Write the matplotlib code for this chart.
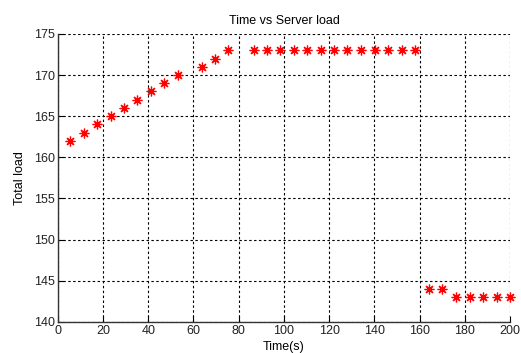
import numpy as np
import matplotlib
matplotlib.use('Agg')
import matplotlib.pyplot as plt

# ── Data ──────────────────────────────────────────────────────────────────────
time_s = [5.3, 11.6, 17.2, 23.3, 29.2, 35.1, 41.0, 47.1, 53.1,
          63.6, 69.3, 75.2,
          86.7, 92.4, 98.4, 104.4, 110.3, 116.2, 122.1, 128.1, 134.1,
          140.2, 146.2, 152.1, 158.0,
          164.3, 170.1, 176.1, 182.2, 188.2, 194.1, 200.0]
total_load = [162, 163, 164, 165, 166, 167, 168, 169, 170,
              171, 172, 173,
              173, 173, 173, 173, 173, 173, 173, 173, 173,
              173, 173, 173, 173,
              144, 144, 143, 143, 143, 143, 143]

x_ticks = [0, 20, 40, 60, 80, 100, 120, 140, 160, 180, 200]
y_ticks = [140, 145, 150, 155, 160, 165, 170, 175]

plt.rcParams['font.family'] = ['Liberation Sans', 'DejaVu Sans']

fig = plt.figure(figsize=(5.21, 3.53), dpi=100)
ax = fig.add_axes([0.111, 0.088, 0.868, 0.816])

# MATLAB-style '*' marker: plus and cross on top of each other
ax.plot(time_s, total_load, linestyle='none', marker=(8, 2, 0), color='red',
        markersize=7, markeredgewidth=0.9, clip_on=False, zorder=3)

ax.set_xlim(0, 200)
ax.set_ylim(140, 175)
ax.set_xticks(x_ticks)
ax.set_yticks(y_ticks)
ax.tick_params(direction='in', length=4, labelsize=9, pad=2, width=0.8,
               labelcolor='#222222')

ax.grid(True, color='black', linestyle=(0, (2.2, 2.2)), linewidth=0.8)
ax.set_axisbelow(True)
for side in ['top', 'right']:
    ax.spines[side].set_visible(False)
for side in ['left', 'bottom']:
    ax.spines[side].set_linewidth(1.0)
    ax.spines[side].set_color('#333333')

ax.set_title('Time vs Server load', fontsize=9, pad=7)
ax.set_xlabel('Time(s)', fontsize=9, labelpad=3)
ax.set_ylabel('Total load', fontsize=9, labelpad=6)

fig.savefig('out.png', dpi=100)
